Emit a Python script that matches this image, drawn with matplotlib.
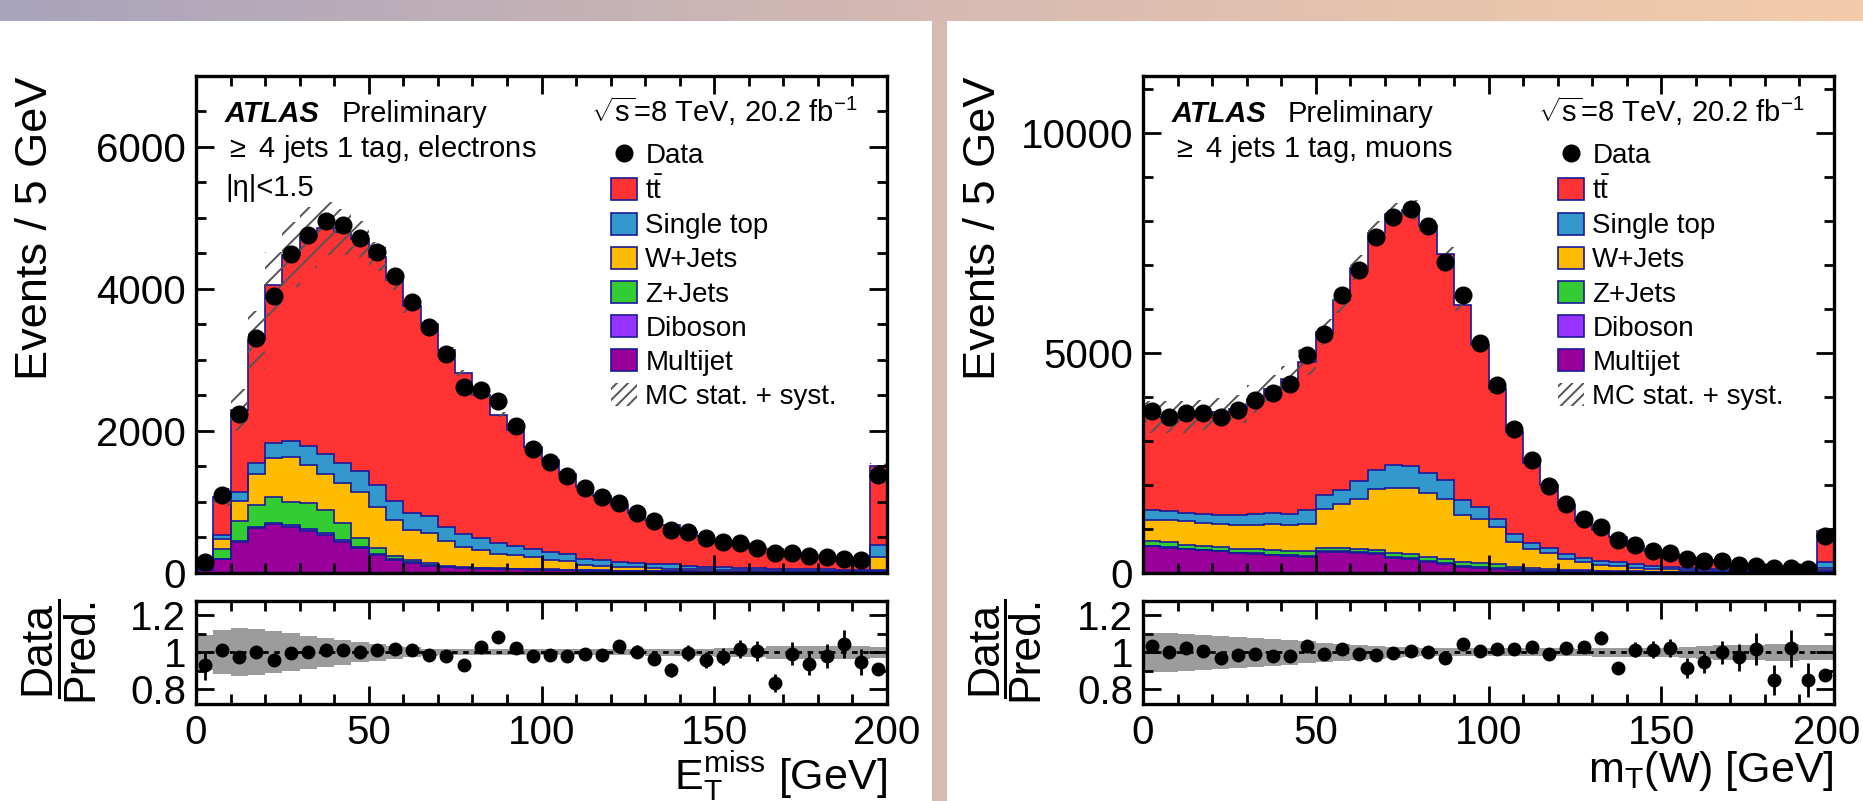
import numpy as np
import matplotlib.pyplot as plt
from matplotlib.patches import Rectangle, Patch
from matplotlib.lines import Line2D
from matplotlib.ticker import MultipleLocator
from matplotlib.transforms import ScaledTranslation

plt.rcParams['font.family'] = ['Liberation Sans', 'DejaVu Sans']
plt.rcParams['mathtext.fontset'] = 'custom'
plt.rcParams['mathtext.rm'] = 'Liberation Sans'
plt.rcParams['mathtext.it'] = 'Liberation Sans:italic'
plt.rcParams['mathtext.bf'] = 'Liberation Sans:bold'
plt.rcParams['hatch.linewidth'] = 1.4

edges = np.arange(0, 205, 5)
xticks = [0, 50, 100, 150, 200]

# ---- left: >=4 jets 1 tag, electrons, E_T^miss ----
el_multijet = [30, 188, 436, 624, 685, 647, 591, 530, 436, 343, 249, 179, 132, 98, 75, 61, 56, 47, 45, 40,
               35, 30, 25, 22, 20, 18, 16, 14, 12, 11, 10, 9, 8, 7, 7, 6, 6, 5, 5, 20]
el_diboson = [2, 9, 14, 14, 19, 19, 19, 23, 23, 23, 14, 9, 9, 10, 9, 9, 6, 6, 5, 5,
              5, 5, 5, 4, 4, 3, 3, 3, 3, 2, 2, 2, 2, 2, 1, 1, 1, 1, 1, 5]
el_zjets = [13, 132, 281, 314, 365, 332, 374, 328, 235, 118, 80, 47, 38, 24, 14, 14, 8, 8, 6, 7,
            5, 5, 5, 4, 4, 4, 3, 3, 3, 3, 2, 2, 2, 2, 2, 2, 1, 1, 1, 10]
el_wjets = [25, 141, 281, 436, 539, 632, 530, 507, 571, 655, 585, 506, 421, 422, 352, 282, 249, 202, 193, 173,
            134, 120, 73, 64, 56, 50, 39, 36, 29, 29, 26, 23, 21, 19, 18, 16, 15, 14, 13, 190]
el_singletop = [10, 60, 127, 159, 220, 222, 272, 281, 282, 291, 305, 271, 235, 243, 188, 178, 165, 150, 127, 104,
                116, 103, 80, 84, 71, 56, 61, 61, 47, 39, 35, 32, 29, 26, 24, 22, 20, 19, 18, 164]
el_ttbar = [73, 539, 1149, 1734, 2231, 2629, 2938, 3182, 3257, 3271, 3220, 3113, 2924, 2709, 2493, 2268, 2014, 1814, 1640, 1443,
            1285, 1126, 1019, 904, 793, 709, 623, 547, 478, 426, 360, 343, 280, 280, 218, 206, 182, 138, 146, 1115]
el_data = [142, 1090, 2241, 3310, 3900, 4490, 4758, 4949, 4898, 4717, 4523, 4186, 3810, 3459, 3084, 2615, 2578, 2418, 2063, 1735,
           1561, 1364, 1196, 1065, 980, 843, 720, 600, 570, 488, 425, 418, 345, 280, 268, 237, 220, 186, 174, 1370]
el_ratio = [0.929, 1.014, 0.973, 1.004, 0.956, 0.996, 1.0, 1.014, 1.014, 1.0, 1.012, 1.02, 1.014, 0.984, 0.982, 0.929, 1.027, 1.082, 1.023, 0.982,
            0.988, 0.982, 0.991, 0.984, 1.034, 1.004, 0.966, 0.904, 0.996, 0.956, 0.977, 1.018, 1.009, 0.833, 0.993, 0.938, 0.979, 1.046, 0.948, 0.911]
el_unc = [0.095, 0.12, 0.13, 0.125, 0.114, 0.103, 0.09, 0.078, 0.068, 0.055, 0.045, 0.035, 0.027, 0.02, 0.016, 0.016, 0.016, 0.016, 0.016, 0.016,
          0.016, 0.016, 0.016, 0.016, 0.016, 0.016, 0.02, 0.02, 0.02, 0.02, 0.025, 0.025, 0.025, 0.035, 0.035, 0.035, 0.035, 0.035, 0.035, 0.03]

# ---- right: >=4 jets 1 tag, muons, m_T(W) ----
mu_multijet = [592, 562, 524, 501, 478, 440, 425, 387, 372, 364, 463, 463, 440, 425, 334, 311, 235, 197, 121, 99,
               84, 60, 45, 35, 28, 22, 18, 15, 12, 8, 7, 6, 5, 5, 4, 4, 3, 3, 3, 20]
mu_diboson = [15, 15, 15, 15, 15, 15, 15, 15, 15, 15, 20, 20, 20, 20, 25, 25, 25, 25, 25, 20,
              20, 15, 12, 10, 8, 6, 5, 4, 3, 2, 2, 2, 1, 1, 1, 1, 1, 1, 1, 5]
mu_zjets = [107, 114, 91, 84, 84, 84, 84, 99, 99, 99, 71, 71, 64, 56, 81, 74, 89, 89, 104, 101,
            93, 55, 43, 35, 29, 22, 17, 14, 12, 8, 6, 5, 5, 4, 4, 3, 3, 2, 2, 25]
mu_wjets = [486, 494, 532, 532, 532, 532, 562, 608, 600, 631, 897, 1011, 1155, 1405, 1489, 1519, 1459, 1368, 1064, 1003,
            836, 561, 432, 360, 239, 200, 142, 126, 79, 66, 61, 47, 39, 35, 31, 27, 23, 22, 19, 49]
mu_singletop = [212, 205, 190, 205, 205, 228, 251, 251, 251, 319, 303, 318, 401, 417, 508, 485, 454, 416, 326, 265,
                190, 175, 137, 114, 121, 76, 91, 69, 84, 68, 45, 39, 35, 30, 25, 23, 20, 17, 15, 136]
mu_ttbar = [2127, 2149, 2187, 2240, 2339, 2430, 2620, 2825, 3075, 3364, 3721, 4313, 4860, 5414, 5733, 5832, 5627, 5164, 4442, 3698,
            2962, 2331, 1822, 1427, 1101, 849, 683, 575, 416, 327, 309, 241, 203, 176, 122, 77, 75, 59, 59, 710]
mu_data = [3675, 3539, 3630, 3630, 3539, 3690, 3918, 4093, 4298, 4943, 5437, 6310, 6895, 7639, 8094, 8284, 7889, 7069, 6310, 5224,
           4260, 3258, 2551, 1959, 1549, 1207, 1033, 729, 615, 486, 440, 311, 273, 251, 182, 137, 106, 106, 84, 828]
mu_ratio = [1.036, 1.0, 1.021, 1.009, 0.968, 0.986, 0.991, 0.979, 0.982, 1.036, 0.991, 1.018, 0.991, 0.986, 0.996, 1.005, 1.0, 0.970, 1.044, 1.005,
            1.018, 1.018, 1.027, 0.991, 1.021, 1.027, 1.08, 0.916, 1.014, 1.014, 1.023, 0.915, 0.947, 1.0, 0.973, 1.018, 0.849, 1.021, 0.849, 0.876]
mu_unc = [0.105, 0.105, 0.10, 0.095, 0.09, 0.085, 0.08, 0.073, 0.066, 0.06, 0.053, 0.046, 0.04, 0.035, 0.03, 0.027, 0.022, 0.022, 0.022, 0.022,
          0.022, 0.022, 0.022, 0.022, 0.022, 0.02, 0.025, 0.025, 0.025, 0.025, 0.025, 0.03, 0.035, 0.04, 0.04, 0.04, 0.045, 0.045, 0.04, 0.04]

labels = ['Data', r'$\mathrm{t\bar{t}}$', 'Single top', 'W+Jets', 'Z+Jets', 'Diboson', 'Multijet', 'MC stat. + syst.']
colors = ['#990099', '#9933ff', '#33cc33', '#ffbb00', '#3399cc', '#ff3333']  # bottom -> top
outline = '#1a1a99'

W, H = 1863, 801
fig = plt.figure(figsize=(W / 100, H / 100), dpi=100)
fig.patch.set_facecolor('white')

# slide decoration: gradient band on top, separator between panels
gax = fig.add_axes([0, 1 - 21 / H, 1, 21 / H])
anchors = np.array([[168, 164, 188], [214, 186, 178], [244, 204, 170]]) / 255
xs = np.linspace(0, 1, 400)
grad = np.stack([np.interp(xs, [0, 0.5, 1], anchors[:, k]) for k in range(3)], axis=-1)[None, :, :]
gax.imshow(grad, aspect='auto')
gax.axis('off')
fig.add_artist(Rectangle((932 / W, 0), 15 / W, 1 - 21 / H, transform=fig.transFigure,
                         color='#d8bab0', lw=0))


def style(ax, major, minor):
    ax.set_xticks(xticks)
    ax.xaxis.set_minor_locator(MultipleLocator(10))
    ax.yaxis.set_major_locator(MultipleLocator(major))
    ax.yaxis.set_minor_locator(MultipleLocator(minor))
    ax.tick_params(which='both', direction='in', top=True, right=True, width=2,
                   labelsize=29, pad=7)
    ax.tick_params(which='major', length=13)
    ax.tick_params(which='minor', length=7)
    for s in ax.spines.values():
        s.set_linewidth(2.4)
    ax.set_xlim(0, 200)


def panel(x0, comps, data, ratio, unc, ymax, ymaj, ymin, sel, atlas_dx, xlabel, extra):
    ax = fig.add_axes([x0 / W, 1 - 572.5 / H, 691 / W, 496.5 / H])
    rax = fig.add_axes([x0 / W, 1 - 704 / H, 691 / W, 103.3 / H])
    data = np.array(data, float)
    unc = np.array(unc)
    centers = 0.5 * (edges[1:] + edges[:-1])

    bottom = np.zeros(len(centers))
    for vals, c in zip(comps, colors):
        top = bottom + np.array(vals)
        ax.stairs(top, edges, baseline=bottom, fill=True, facecolor=c, edgecolor=c, lw=0.3)
        bottom = top
    bottom = np.zeros(len(centers))
    for vals in comps:
        bottom = bottom + np.array(vals)
        ax.stairs(bottom, edges, baseline=None, color=outline, lw=1.2)
    total = bottom
    ax.stairs(total * (1 + unc), edges, baseline=total * (1 - unc), fill=True,
              facecolor='none', edgecolor='#555555', hatch='//', lw=0)
    ax.errorbar(centers, data, yerr=np.sqrt(data), fmt='o', color='black', ms=12,
                elinewidth=2, capsize=0)
    ax.set_ylim(0, ymax)
    style(ax, ymaj, ymin)
    ax.tick_params(labelbottom=False)

    ax.text(0.042, 0.908, 'ATLAS', transform=ax.transAxes, fontsize=21,
            fontweight='bold', fontstyle='italic', va='baseline')
    ax.text(atlas_dx, 0.908, 'Preliminary', transform=ax.transAxes, fontsize=21, va='baseline')
    ax.text(0.958, 0.908, r'$\sqrt{\mathrm{s}}$=8 TeV, 20.2 fb$^{-1}$', transform=ax.transAxes,
            fontsize=21, ha='right', va='baseline')
    ax.text(0.042, 0.837, sel, transform=ax.transAxes, fontsize=21, va='baseline')
    if extra:
        ax.text(0.042, 0.759, extra, transform=ax.transAxes, fontsize=21, va='baseline')

    handles = [Line2D([], [], marker='o', color='black', ms=12, ls='none')]
    for c in colors[::-1]:
        handles.append(Patch(facecolor=c, edgecolor=outline, lw=1.2))
    handles.append(Patch(facecolor='none', edgecolor='#555555', hatch='///', lw=0))
    ax.legend(handles, labels, loc='upper left', bbox_to_anchor=(0.60, 0.866), frameon=False,
              fontsize=20, handlelength=0.95, handleheight=0.85, handletextpad=0.3,
              labelspacing=0.27, borderpad=0, borderaxespad=0)

    # ratio panel
    rax.stairs(1 + unc, edges, baseline=1 - unc, fill=True, color='#9c9c9c', lw=0)
    rax.axhline(1, color='black', ls=(0, (2, 2)), lw=2)
    ratio = np.array(ratio)
    rax.errorbar(centers, ratio, yerr=ratio / np.sqrt(data), fmt='o', color='black', ms=9,
                 elinewidth=2, capsize=0)
    rax.set_ylim(0.72, 1.28)
    style(rax, 0.2, 0.1)
    rax.set_yticks([0.8, 1.0, 1.2])
    rax.set_yticklabels(['0.8', '1', '1.2'])
    rax.set_xlabel(xlabel, fontsize=31, loc='right')
    rax.xaxis.set_label_coords(1.0, -0.44)
    return ax, rax


panel(196, [el_multijet, el_diboson, el_zjets, el_wjets, el_singletop, el_ttbar],
      el_data, el_ratio, el_unc, 7000, 2000, 500, r'$\geq$ 4 jets 1 tag, electrons', 0.211,
      r'$\mathrm{E}_{\mathrm{T}}^{\mathrm{miss}}$ [GeV]', '|η|<1.5')
_, rax_r = panel(1143, [mu_multijet, mu_diboson, mu_zjets, mu_wjets, mu_singletop, mu_ttbar],
                 mu_data, mu_ratio, mu_unc, 11300, 5000, 1000, r'$\geq$ 4 jets 1 tag, muons', 0.209,
                 r'$\mathrm{m}_{\mathrm{T}}$(W) [GeV]', None)

# keep the last "200" label of the right panel inside the picture
last = rax_r.get_xticklabels()[-1]
last.set_transform(last.get_transform() + ScaledTranslation(-0.07, 0, fig.dpi_scale_trans))

# y labels
for xc, xd, xp, xl in [(36, 37.5, 81, 59), (983.5, 985, 1026, 1005)]:
    fig.text(xc / W, 1 - 76 / H, 'Events / 5 GeV', rotation=90, ha='center', va='top', fontsize=32.5)
    fig.text(xd / W, 1 - 648 / H, 'Data', rotation=90, ha='center', va='center', fontsize=32)
    fig.text(xp / W, 1 - 648 / H, 'Pred.', rotation=90, ha='center', va='center', fontsize=32)
    fig.add_artist(Line2D([xl / W, xl / W], [1 - 600 / H, 1 - 697 / H], color='black', lw=2.2,
                          transform=fig.transFigure))

fig.savefig('out.png', dpi=100)
